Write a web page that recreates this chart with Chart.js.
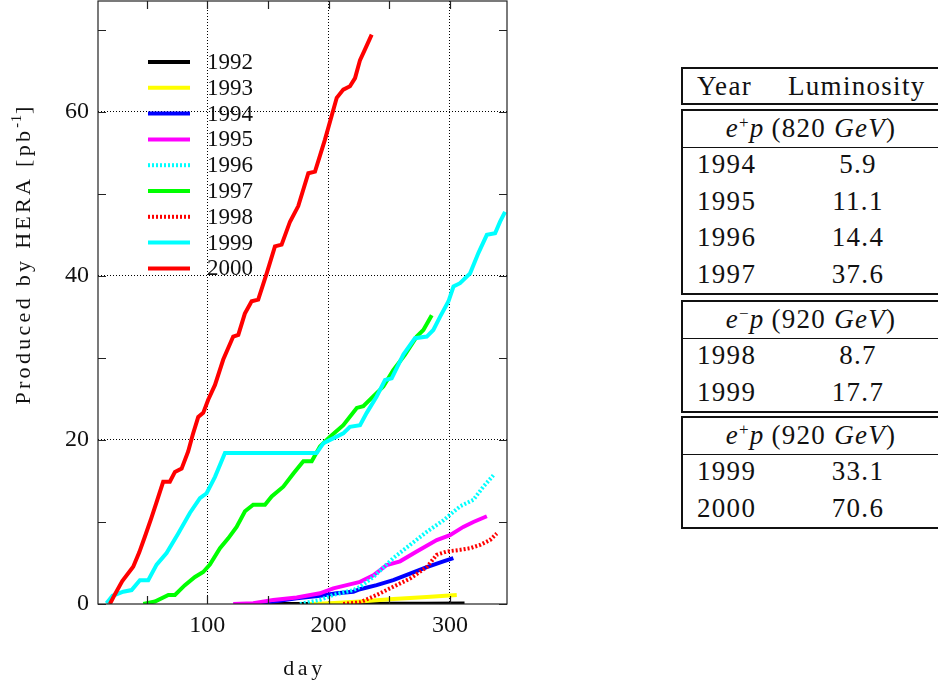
<!DOCTYPE html>
<html>
<head>
<meta charset="utf-8">
<script src="https://cdn.jsdelivr.net/npm/chart.js@4.4.1/dist/chart.umd.min.js"></script>
<style>
  html, body { margin:0; padding:0; background:#fff; }
  #page { position:relative; width:938px; height:686px; overflow:hidden; background:#fff; }
  #wrap { position:absolute; left:0; top:0; width:520px; height:686px; }
  .box { position:absolute; left:681px; width:300px; border:2px solid #111; box-sizing:border-box; }
  .sep { position:absolute; left:681px; width:300px; height:0; border-top:1.5px solid #111; }
  .t { position:absolute; font-family:"Liberation Serif", serif; font-size:27px; color:#111; height:30px; line-height:30px; white-space:nowrap; letter-spacing:1.3px; }
  .c { text-align:center; }
  .t i { font-style:italic; }
  .t sup { font-size:17px; vertical-align:9px; line-height:0; }
</style>
</head>
<body>
<div id="page">
  <div id="wrap"><canvas id="c" width="520" height="686"></canvas></div>
  <div id="table"></div>
</div>
<script>
// ---- data ----
const years = ['1992','1993','1994','1995','1996','1997','1998','1999','2000'];
const lineColors = ['#000000','#ffff00','#0000ff','#ff00ff','#00ffff','#00ff00','#ff0000','#00ffff','#ff0000'];
const dotted = [false,false,false,false,true,false,true,false,false];

const day1992 = [151.7, 200, 250, 280, 312];
const lum1992 = [0, 0.01, 0.02, 0.04, 0.06];

const day1993 = [184.7, 201.2, 225.9, 253.3, 280.9, 305.6];
const lum1993 = [0, 0.1, 0.3, 0.6, 0.85, 1.1];

const day1994 = [140.7, 173.7, 192.9, 206.7, 220.4, 225.9, 239.6, 253.3, 267.1, 280.9, 294.6, 302.8];
const lum1994 = [0, 0.7, 1.0, 1.3, 1.5, 1.8, 2.3, 2.9, 3.7, 4.5, 5.2, 5.6];

const day1995 = [121.4, 137.9, 154.4, 173.7, 192.9, 203.9, 214.9, 225.9, 236.9, 247.9, 258.9, 272.6, 289.1, 300, 311, 319.3, 330.4];
const lum1995 = [0, 0.1, 0.5, 0.8, 1.3, 1.9, 2.3, 2.7, 3.5, 4.75, 5.2, 6.4, 7.8, 8.4, 9.4, 10.0, 10.7];

const day1996 = [176.4, 192.9, 203.9, 220.4, 226, 237, 253.3, 267.1, 280.9, 294.6, 308.3, 319.3, 327.5, 335.8];
const lum1996 = [0, 0.5, 1.1, 1.7, 2.1, 3.3, 5.6, 7.2, 8.8, 10.2, 11.9, 12.7, 14.3, 15.7];

const day1997 = [47.3, 56.9, 68, 73.4, 81.6, 89.9, 96.7, 102.2, 110.5, 117.3, 124.2, 131.1, 137.9, 147.6, 153.1, 162.7, 171, 179.2, 186.1, 192.9, 201.2, 212.1, 223.2, 228.6, 236.8, 245.1, 253.3, 263, 272.6, 278.1, 285];
const lum1997 = [0, 0.3, 1.1, 1.1, 2.3, 3.3, 3.9, 4.8, 6.8, 8.0, 9.4, 11.3, 12.1, 12.1, 13.1, 14.3, 15.9, 17.4, 17.4, 19.2, 20.4, 21.8, 23.9, 24.1, 25.3, 26.5, 28.5, 30.4, 32.6, 33.4, 35.2];

const day1998 = [212, 225.9, 239.6, 253.3, 267.1, 280.9, 289.1, 297.4, 308.3, 316.5, 324.8, 333, 338.6];
const lum1998 = [0, 0.2, 1.1, 2.1, 3.1, 4.5, 6.0, 6.4, 6.6, 6.8, 7.2, 7.8, 8.6];

const day1999 = [17, 22, 30.8, 37.7, 44.5, 51.4, 58.3, 66.5, 76.1, 85.7, 94, 99.5, 106.4, 114.6, 190.2, 195.7, 201.2, 212.1, 217.6, 225.9, 231.4, 239.6, 246.5, 252, 261.6, 271.2, 280.9, 286.3, 291.8, 298.8, 302.9, 308.3, 316.6, 323.5, 330.4, 337.2, 341.3, 345.4];
const lum1999 = [0.1, 1.0, 1.5, 1.7, 2.9, 2.9, 4.8, 6.2, 8.6, 11.1, 12.9, 13.5, 15.5, 18.4, 18.4, 19.6, 20, 20.8, 21.6, 21.8, 23.3, 25.3, 27.3, 27.5, 30.4, 32.4, 32.6, 33.4, 35, 36.9, 38.7, 39.1, 40.3, 42.8, 45, 45.2, 46.6, 47.8];

const day2000 = [19.8, 24, 30, 39, 44, 48.6, 54, 58, 63.7, 69.2, 73.4, 78.9, 84.3, 88, 92.6, 96.7, 100.8, 106.4, 113.2, 121.4, 125.6, 131, 136.6, 142, 149, 155.8, 161.3, 168.2, 175, 183.3, 188.8, 197, 206.7, 212.1, 217.6, 221.8, 225.9, 230, 235.5];
const lum2000 = [0, 1.2, 2.8, 4.55, 6.3, 8.2, 10.5, 12.3, 14.9, 14.9, 16.1, 16.5, 18.6, 20.6, 22.8, 23.3, 24.9, 26.7, 29.8, 32.6, 32.8, 35.4, 36.9, 37.1, 40.3, 43.6, 43.8, 46.6, 48.5, 52.5, 52.7, 56.6, 61.7, 62.7, 63.1, 64.1, 66.3, 67.6, 69.4];

const xTickValues = [50, 100, 150, 200, 250, 300];
const yTickValues = [0, 10, 20, 30, 40, 50, 60, 70];
const xLabeled = [100, 200, 300];
const yLabeled = [0, 20, 40, 60];
const xGrid = [100, 200, 300];
const yGrid = [20, 40, 60];

const xTitle = 'day';
const yTitle = 'Produced by HERA [pb';
const yTitleSup = '-1';
const yTitleEnd = ']';

// table content
const tableHeader = ['Year', 'Luminosity'];
const groups = [
  { label: '<i>e</i><sup>+</sup><i>p</i>\u2009(820 <i>GeV</i>)', years: ['1994','1995','1996','1997'], lumi: ['5.9','11.1','14.4','37.6'] },
  { label: '<i>e</i><sup>\u2212</sup><i>p</i>\u2009(920 <i>GeV</i>)', years: ['1998','1999'], lumi: ['8.7','17.7'] },
  { label: '<i>e</i><sup>+</sup><i>p</i>\u2009(920 <i>GeV</i>)', years: ['1999','2000'], lumi: ['33.1','70.6'] }
];

// ---- table layout ----
(function buildTable(){
  const T = document.getElementById('table');
  let html = '';
  const txt = (cls, style, s) => `<div class="t ${cls}" style="${style}">${s}</div>`;
  html += `<div class="box" style="top:67px;height:38px"></div>`;
  html += txt('', 'left:697px;top:71px', tableHeader[0]);
  html += txt('', 'left:788px;top:71px', tableHeader[1]);
  const boxTops = [109, 300, 416];
  groups.forEach((g, gi) => {
    const top = boxTops[gi];
    const subC = top + 19, sepY = top + 38, row0 = sepY + 17, rowH = 36.7;
    const bottom = row0 + rowH * (g.years.length - 1) + 21;
    html += `<div class="box" style="top:${top}px;height:${bottom - top}px"></div>`;
    html += `<div class="sep" style="top:${sepY}px"></div>`;
    html += txt('c', `left:700px;width:222px;top:${subC - 15}px`, g.label);
    g.years.forEach((y, i) => {
      const cy = row0 + rowH * i;
      html += txt('', `left:697px;top:${cy - 15}px`, y);
      html += txt('c', `left:800px;width:116px;top:${cy - 15}px`, g.lumi[i]);
    });
  });
  T.innerHTML = html;
})();

// ---- chart ----
const dayArrays = [day1992, day1993, day1994, day1995, day1996, day1997, day1998, day1999, day2000];
const lumArrays = [lum1992, lum1993, lum1994, lum1995, lum1996, lum1997, lum1998, lum1999, lum2000];

const datasets = years.map((yr, i) => ({
  label: yr,
  data: dayArrays[i].map((d, k) => ({ x: d, y: lumArrays[i][k] })),
  borderColor: lineColors[i],
  backgroundColor: lineColors[i],
  borderWidth: 4,
  borderDash: dotted[i] ? [2, 2] : [],
  pointRadius: 0,
  tension: 0,
  fill: false,
  order: years.length - i
}));

const serif = '"Liberation Serif", serif';

const framePlugin = {
  id: 'frameAndLegend',
  afterDraw(chart) {
    const { ctx, chartArea: a, scales: { x, y } } = chart;
    ctx.save();
    // frame
    ctx.strokeStyle = '#222';
    ctx.lineWidth = 1.2;
    ctx.setLineDash([]);
    ctx.strokeRect(a.left, a.top, a.right - a.left, a.bottom - a.top);
    // inward tick marks
    const tl = 8;
    ctx.beginPath();
    x.ticks.forEach(t => {
      const px = Math.round(x.getPixelForValue(t.value)) + 0.5;
      ctx.moveTo(px, a.bottom); ctx.lineTo(px, a.bottom - tl);
      ctx.moveTo(px, a.top); ctx.lineTo(px, a.top + tl);
    });
    y.ticks.forEach(t => {
      const py = Math.round(y.getPixelForValue(t.value)) + 0.5;
      ctx.moveTo(a.left, py); ctx.lineTo(a.left + tl, py);
      ctx.moveTo(a.right, py); ctx.lineTo(a.right - tl, py);
    });
    ctx.stroke();

    // legend inside plot
    const lx0 = 148, lx1 = 190, tx = 207, ty0 = 62, dy = 25.8;
    chart.data.datasets.forEach((ds, i) => {
      const yy = ty0 + dy * i;
      ctx.beginPath();
      ctx.strokeStyle = ds.borderColor;
      ctx.lineWidth = 4;
      ctx.setLineDash(ds.borderDash || []);
      ctx.moveTo(lx0, yy); ctx.lineTo(lx1, yy);
      ctx.stroke();
      ctx.setLineDash([]);
      ctx.fillStyle = '#111';
      ctx.font = '23px ' + serif;
      ctx.textAlign = 'left';
      ctx.textBaseline = 'middle';
      ctx.fillText(ds.label, tx, yy + 1);
    });

    // axis titles
    ctx.fillStyle = '#111';
    ctx.textBaseline = 'alphabetic';
    ctx.font = '22px ' + serif;
    ctx.letterSpacing = '3.5px';
    ctx.textAlign = 'center';
    ctx.fillText(xTitle, (a.left + a.right) / 2 + 2, 675);

    ctx.translate(30, 254);
    ctx.rotate(-Math.PI / 2);
    ctx.textAlign = 'left';
    ctx.letterSpacing = '3.3px';
    ctx.font = '22px ' + serif;
    const w1 = ctx.measureText(yTitle).width;
    const w3 = ctx.measureText(yTitleEnd).width;
    ctx.font = '14px ' + serif;
    ctx.letterSpacing = '1px';
    const w2 = ctx.measureText(yTitleSup).width;
    const total = w1 + w2 + w3;
    let sx = -total / 2;
    ctx.font = '22px ' + serif;
    ctx.letterSpacing = '3.3px';
    ctx.fillText(yTitle, sx, 0);
    sx += w1;
    ctx.font = '14px ' + serif;
    ctx.letterSpacing = '1px';
    ctx.fillText(yTitleSup, sx, -9);
    sx += w2;
    ctx.font = '22px ' + serif;
    ctx.letterSpacing = '3.3px';
    ctx.fillText(yTitleEnd, sx, 0);
    ctx.restore();
  }
};

new Chart(document.getElementById('c'), {
  type: 'line',
  data: { datasets },
  options: {
    responsive: false,
    animation: false,
    devicePixelRatio: 1,
    layout: { padding: { left: 0, right: 13, top: 1, bottom: 0 } },
    plugins: { legend: { display: false }, tooltip: { enabled: false }, title: { display: false } },
    scales: {
      x: {
        type: 'linear',
        min: 10, max: 347,
        afterBuildTicks(s) { s.ticks = xTickValues.map(v => ({ value: v })); },
        afterFit(s) { s.height = 82; s.paddingLeft = 0; s.paddingRight = 0; },
        ticks: {
          autoSkip: false,
          maxRotation: 0,
          padding: 7,
          color: '#111',
          font: { family: serif, size: 24 },
          callback: v => xLabeled.includes(v) ? String(v) : ''
        },
        grid: {
          drawTicks: false,
          lineWidth: 1,
          color: c => (c.tick && xGrid.includes(c.tick.value)) ? '#000' : 'rgba(0,0,0,0)'
        },
        border: { display: false, dash: [1, 2] }
      },
      y: {
        type: 'linear',
        min: 0, max: 73.5,
        afterBuildTicks(s) { s.ticks = yTickValues.map(v => ({ value: v })); },
        afterFit(s) { s.width = 98; s.paddingTop = 0; s.paddingBottom = 0; },
        ticks: {
          autoSkip: false,
          padding: 9,
          color: '#111',
          font: { family: serif, size: 24 },
          callback: v => yLabeled.includes(v) ? String(v) : ''
        },
        grid: {
          drawTicks: false,
          lineWidth: 1,
          color: c => (c.tick && yGrid.includes(c.tick.value)) ? '#000' : 'rgba(0,0,0,0)'
        },
        border: { display: false, dash: [1, 2] }
      }
    }
  },
  plugins: [framePlugin]
});
</script>
</body>
</html>
